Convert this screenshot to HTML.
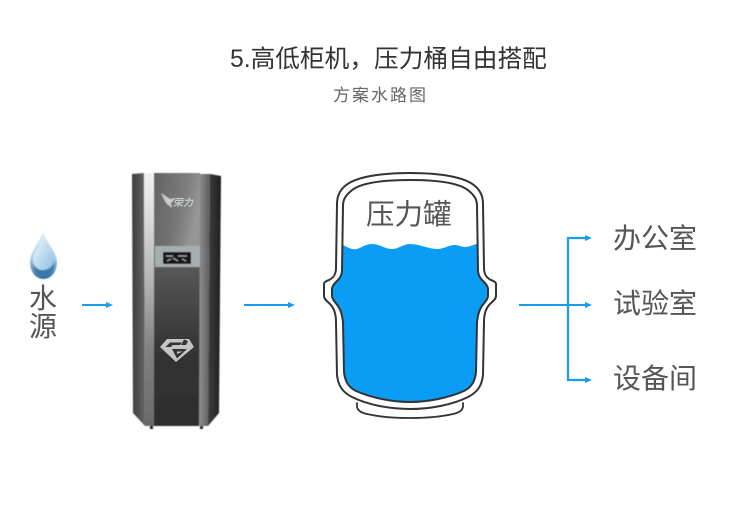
<!DOCTYPE html>
<html><head><meta charset="utf-8"><style>
html,body{margin:0;padding:0;background:#fff}
svg{display:block}
text{font-family:"Liberation Sans","Noto Sans CJK SC",sans-serif}
</style></head><body>
<svg width="750" height="517" viewBox="0 0 750 517" xmlns="http://www.w3.org/2000/svg">
<defs>
<linearGradient id="cen" x1="0" y1="0" x2="0" y2="1"><stop offset="0" stop-color="#777"/><stop offset=".28" stop-color="#666"/><stop offset=".42" stop-color="#525252"/><stop offset=".7" stop-color="#343434"/><stop offset="1" stop-color="#2d2d2d"/></linearGradient>
<linearGradient id="ctop" x1="0" y1="0" x2="1" y2="0.400"><stop offset="0" stop-color="#555" stop-opacity=".7"/><stop offset=".5" stop-color="#777" stop-opacity=".4"/><stop offset="1" stop-color="#aaa" stop-opacity=".7"/></linearGradient>
<linearGradient id="lp" x1="0" y1="0" x2="1" y2="0"><stop offset="0" stop-color="#3c3c3c"/><stop offset="1" stop-color="#666"/></linearGradient>
<linearGradient id="rp" x1="0" y1="0" x2="1" y2="0"><stop offset="0" stop-color="#3e3e3e"/><stop offset="1" stop-color="#1f1f1f"/></linearGradient>
<linearGradient id="sl" x1="0" y1="0" x2="0" y2="1"><stop offset="0" stop-color="#f2f2f2"/><stop offset=".2" stop-color="#d8d8d8"/><stop offset=".45" stop-color="#b0b0b0"/><stop offset=".7" stop-color="#808080"/><stop offset="1" stop-color="#6a6a6a"/></linearGradient>
<linearGradient id="sr" x1="0" y1="0" x2="1" y2="0"><stop offset="0" stop-color="#8e8e8e"/><stop offset=".5" stop-color="#777"/><stop offset="1" stop-color="#5a5a5a"/></linearGradient>
<linearGradient id="d1" x1="0" y1="0" x2="0" y2="1"><stop offset="0" stop-color="#dfeef6"/><stop offset=".55" stop-color="#a9d0e8"/><stop offset="1" stop-color="#2c6a9c"/></linearGradient>
<linearGradient id="d2" x1="0" y1="0" x2="1" y2="1"><stop offset="0" stop-color="#f4fafd"/><stop offset="1" stop-color="#8dbfe0"/></linearGradient>
<filter id="b"><feGaussianBlur stdDeviation=".45"/></filter>
<filter id="b2"><feGaussianBlur stdDeviation=".3"/></filter>
</defs>

<text x="230" y="67" font-size="24.700" fill="#333">5.高低柜机，压力桶自由搭配</text>
<text x="333" y="101" font-size="17" letter-spacing="2" fill="#666">方案水路图</text>

<!-- drop -->
<g filter="url(#b)">
<path d="M43 232C40 242 30 252 30 262C30 272 36 279 43.500 279C51 279 57 272 57 262C57 252 46 242 43 232Z" fill="url(#d1)"/>
<path d="M43 235C41 244 33 252 33 260C33 267 38 271 44 270C50 269 54 264 54 258C54 250 46 243 43 235Z" fill="url(#d2)"/>
<path d="M33 263C36 272 50 274 55 262C54 270 50 276 43.500 276C37 276 34 270 33 263Z" fill="#3b78a8"/>
</g>
<text x="29" y="308" font-size="28" fill="#555">水</text>
<text x="29" y="336" font-size="28" fill="#555">源</text>

<!-- machine -->
<g filter="url(#b)">
<rect x="150" y="425" width="3" height="4" fill="#222"/><rect x="200" y="425" width="3" height="4" fill="#222"/>
<polygon points="132,174 144,173 145,426 133,413" fill="url(#lp)"/>
<polygon points="144,173 154,173 154,426 145,426" fill="url(#sl)"/>
<rect x="154" y="173" width="46" height="253" fill="url(#cen)"/>
<rect x="154" y="173" width="46" height="73" fill="url(#ctop)"/>
<polygon points="200,174 210,174 208,426 199,426" fill="url(#sr)"/>
<polygon points="210,174 221,176 219,413 208,426" fill="url(#rp)"/>
<rect x="155" y="246" width="45" height="21" fill="#a6aeb0"/>
<rect x="163" y="252" width="28" height="12" rx="1" fill="#15181a"/>
<path d="M166 256h7M178 256h9M167 261l4-2M173 258l5 3M182 259l4 2" stroke="#aaa" stroke-width="1.200" fill="none"/>
<polygon points="161,193 170,199 176,198 171,203 172,208 166,203" fill="#c9cdd0"/>
</g>
<text x="173" y="206" font-size="10" font-style="italic" font-weight="700" fill="#c4c8ca">荣力</text>
<g filter="url(#b2)">
<polygon points="160,347 167,339 189,339 194,347 176,362" fill="#c4c4c4"/>
<path d="M165.500 347L170 342.500H182L180 345H172.500L171 347Z" fill="#333"/>
<path d="M172 349H187L177 358.500Z" fill="#333"/>
<path d="M177 351.500H183L177 354Z" fill="#c4c4c4"/>
<path d="M184 339.500L181 345H186L188 341Z" fill="#333"/>
</g>

<!-- tank -->
<path d="M343 245C349 248 352 250 357 249C363 247 366 244 372 244C380 244 385 249 392 249C399 249 403 244 410 244C420 244 428 249 437 249C444 249 449 245 455 245C459 245 461 247 465 247C469 247 472 245 477 244L478 270C478 276 481 279 484 282C487 285 488 287 488 289V296C488 299 485 302 482 306C479 310 478 315 477 322L476 372C475 381 472 387 464 391C448 398 428 402 410 402C392 402 372 398 356 391C348 387 345 381 344 372L343 322C342 315 341 310 338 306C335 302 332 299 332 296V289C332 287 333 285 336 282C339 279 342 276 342 270Z" fill="#0b9cf6"/>
<g fill="none" stroke="#333" stroke-linejoin="round" stroke-linecap="round">
<path d="M357 403V407C358 411 362 413 367 414C380 417 395 418 410 418C425 418 440 417 453 414C458 413 462 411 463 407V403" stroke-width="1.800"/>
<path d="M410 173C380 173 355 177 345 186C339 191 337 197 337 204L336 268C336 275 333 278 329 280C326 281 324 282 324 284V296C324 299 327 301 330 304C334 308 336 314 336 322L337 375C338 385 342 392 352 397C368 405 390 409 410 409C430 409 452 405 468 397C478 392 482 385 483 375L484 322C484 314 486 308 490 304C493 301 496 299 496 296V284C496 282 494 281 491 280C487 278 484 275 484 268L483 204C483 197 481 191 475 186C465 177 440 173 410 173Z" stroke-width="2"/>
<path d="M410 180C382 180 360 183 351 191C345 196 343 200 343 206L342 270C342 276 339 279 336 282C333 285 332 287 332 289V296C332 299 335 302 338 306C341 310 342 315 343 322L344 372C345 381 348 387 356 391C372 398 392 402 410 402C428 402 448 398 464 391C472 387 475 381 476 372L477 322C478 315 479 310 482 306C485 302 488 299 488 296V289C488 287 487 285 484 282C481 279 478 276 478 270L477 206C477 200 475 196 469 191C460 183 438 180 410 180Z" stroke-width="2"/>
</g>
<text x="366" y="224" font-size="28.500" fill="#555">压力罐</text>

<!-- arrows -->
<g stroke="#1a9cec" stroke-width="2" fill="none">
<path d="M82 305H108"/><path d="M244 305H290"/><path d="M519 305H587"/>
<path d="M587 238H568V380H587" stroke-width="2.200"/>
</g>
<g fill="#1a9cec">
<polygon points="106,302 113,305 106,308"/><polygon points="288,302 295,305 288,308"/>
<polygon points="585,235 592,238 585,241"/><polygon points="585,302 592,305 585,308"/><polygon points="585,377 592,380 585,383"/>
</g>

<text x="613" y="248" font-size="28" fill="#555">办公室</text>
<text x="613" y="313" font-size="28" fill="#555">试验室</text>
<text x="613" y="388" font-size="28" fill="#555">设备间</text>
</svg>
</body></html>
